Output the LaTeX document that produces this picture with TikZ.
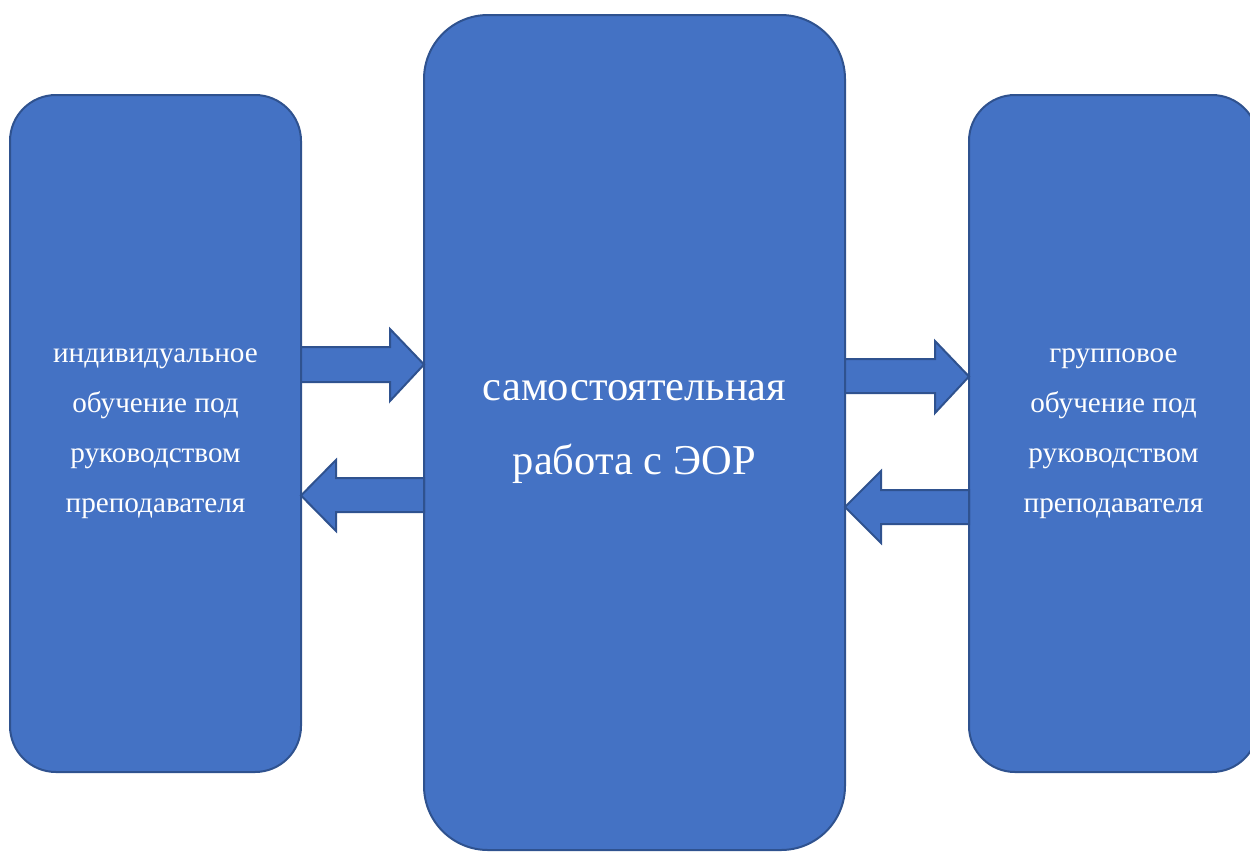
\documentclass[tikz,border=0pt]{standalone}
\usepackage{fontspec}
\setmainfont{Liberation Serif}
\definecolor{boxfill}{HTML}{4472C4}
\definecolor{boxline}{HTML}{2F528F}
\tikzset{
  box/.style={draw=boxline, fill=boxfill, line width=2pt, text=white, align=center, inner sep=0pt, outer sep=0pt},
  sidebox/.style={box, minimum height=677pt, rounded corners=46pt, font=\fontsize{29.2}{50}\selectfont},
  blk/.style={draw=boxline, fill=boxfill, line width=2pt, line join=miter}
}
\begin{document}
\begin{tikzpicture}[x=1pt,y=-1pt]
\useasboundingbox (0,0) rectangle (1250,852);
\clip (0,0) rectangle (1250,852);
\node[sidebox, minimum width=291pt] (L) at (155.5,433.5)
  {индивидуальное\\обучение под\\руководством\\преподавателя};
\node[box, minimum width=421pt, minimum height=835pt, rounded corners=64pt,
  font=\fontsize{42.5}{74}\selectfont] (C) at (634.5,432.5)
  {самостоятельная\\работа с ЭОР};
\node[sidebox, minimum width=289pt] (R) at (1113.5,433.5)
  {групповое\\обучение под\\руководством\\преподавателя};
% L -> C
\draw[blk] (L.east |- 0,347) -- (390,347) -- (390,329) -- (C.west |- 0,364.5)
  -- (390,401) -- (390,382) -- (L.east |- 0,382) -- cycle;
% C -> L
\draw[blk] (C.west |- 0,478) -- (336,478) -- (336,460) -- (L.east |- 0,495.5)
  -- (336,531) -- (336,512) -- (C.west |- 0,512) -- cycle;
% C -> R
\draw[blk] (C.east |- 0,359) -- (935,359) -- (935,341) -- (R.west |- 0,376.5)
  -- (935,413) -- (935,393) -- (C.east |- 0,393) -- cycle;
% R -> C
\draw[blk] (R.west |- 0,490) -- (881,490) -- (881,471) -- (C.east |- 0,507)
  -- (881,543) -- (881,524) -- (R.west |- 0,524) -- cycle;
\end{tikzpicture}
\end{document}
